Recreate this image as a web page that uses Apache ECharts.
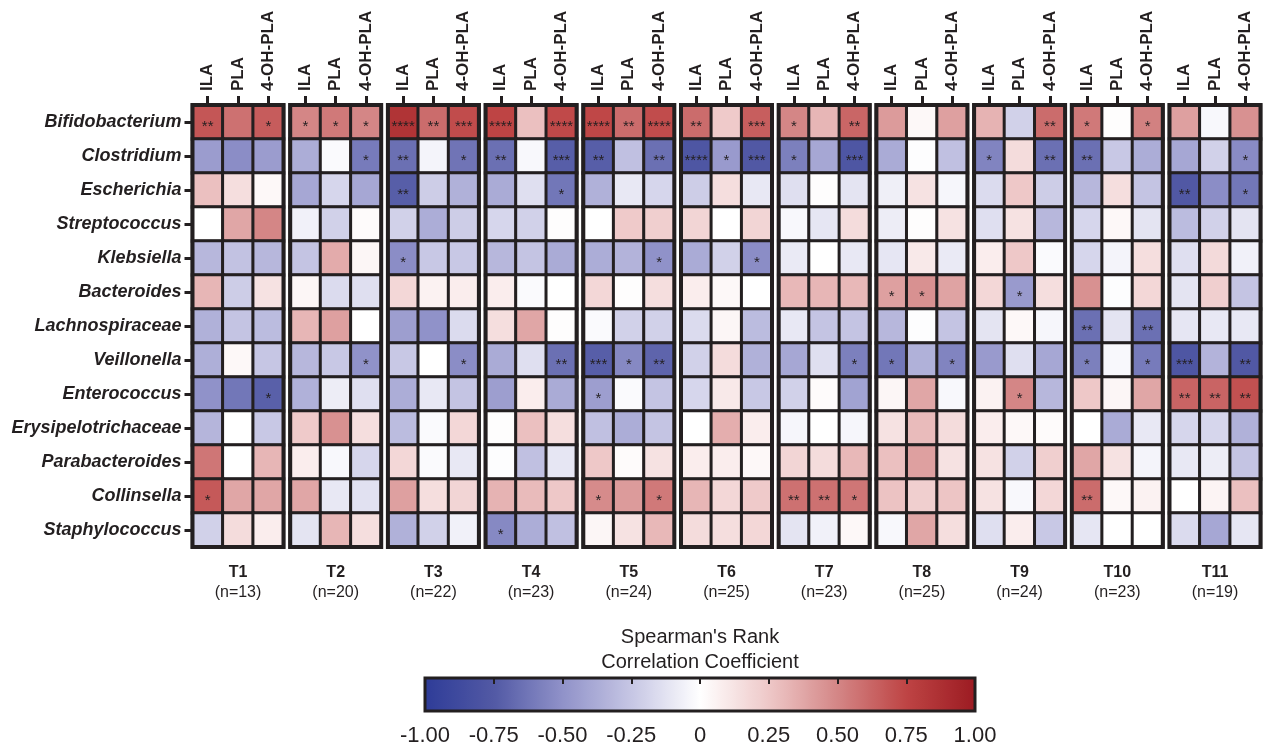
<!DOCTYPE html>
<html>
<head>
<meta charset="utf-8">
<script src="https://cdn.jsdelivr.net/npm/echarts@6/dist/echarts.min.js"></script>
<style>
html,body{margin:0;padding:0;background:#fff;}
#chart{width:1264px;height:748px;}
</style>
</head>
<body>
<div id="chart"></div>
<script>
// ---------- data ----------
const timepoints = ['T1','T2','T3','T4','T5','T6','T7','T8','T9','T10','T11'];
const sampleSizes = [13,20,22,23,24,25,23,25,24,23,19];
const metabolites = ['ILA','PLA','4-OH-PLA'];
const genera = ['Bifidobacterium','Clostridium','Escherichia','Streptococcus','Klebsiella','Bacteroides','Lachnospiraceae','Veillonella','Enterococcus','Erysipelotrichaceae','Parabacteroides','Collinsella','Staphylococcus'];
const colorbarTicks = ['-1.00','-0.75','-0.50','-0.25','0','0.25','0.50','0.75','1.00'];

// Spearman rho per time point: rows = genera, cols = ILA, PLA, 4-OH-PLA
const rhoT1 = [[0.68,0.58,0.66],[-0.45,-0.52,-0.45],[0.28,0.15,0.03],[0,0.38,0.5],[-0.32,-0.27,-0.32],[0.32,-0.22,0.13],[-0.35,-0.26,-0.3],[-0.36,0.03,-0.25],[-0.5,-0.62,-0.72],[-0.33,0,-0.24],[0.56,0,0.32],[0.67,0.38,0.38],[-0.2,0.16,0.08]];
const rhoT2 = [[0.5,0.55,0.5],[-0.37,-0.02,-0.6],[-0.4,-0.18,-0.4],[-0.06,-0.2,0.02],[-0.26,0.36,0.04],[0.04,-0.16,-0.14],[0.32,0.4,0],[-0.32,-0.24,-0.5],[-0.35,-0.08,-0.14],[0.24,0.46,0.15],[0.08,-0.03,-0.18],[0.38,-0.1,-0.13],[-0.12,0.32,0.15]];
const rhoT3 = [[0.85,0.6,0.72],[-0.65,-0.05,-0.63],[-0.73,-0.22,-0.35],[-0.2,-0.37,-0.22],[-0.52,-0.24,-0.24],[0.18,0.06,0.08],[-0.44,-0.5,-0.16],[-0.24,0,-0.52],[-0.37,-0.1,-0.26],[-0.3,-0.02,0.18],[0.18,-0.02,-0.1],[0.4,0.15,0.19],[-0.35,-0.2,-0.06]];
const rhoT4 = [[0.75,0.28,0.73],[-0.65,-0.03,-0.73],[-0.38,-0.14,-0.62],[-0.18,-0.2,0.01],[-0.32,-0.26,-0.38],[0.08,-0.02,0],[0.15,0.38,0.01],[-0.38,-0.14,-0.65],[-0.44,0.08,-0.38],[0.01,0.28,0.15],[-0.01,-0.28,-0.11],[0.33,0.3,0.25],[-0.54,-0.37,-0.28]];
const rhoT5 = [[0.74,0.6,0.72],[-0.73,-0.28,-0.65],[-0.35,-0.1,-0.18],[0,0.24,0.22],[-0.37,-0.34,-0.5],[0.18,0.01,0.15],[-0.02,-0.2,-0.2],[-0.73,-0.54,-0.7],[-0.44,-0.02,-0.26],[-0.28,-0.37,-0.26],[0.25,0.02,0.13],[0.48,0.42,0.55],[0.04,0.13,0.31]];
const rhoT6 = [[0.6,0.24,0.65],[-0.78,-0.46,-0.76],[-0.22,0.15,-0.1],[0.19,0,0.19],[-0.38,-0.2,-0.52],[0.08,0.03,0],[-0.16,0.04,-0.3],[-0.2,0.16,-0.35],[-0.18,0.1,-0.24],[0,0.35,0.08],[0.08,0.08,0.03],[0.32,0.18,0.24],[0.16,0.15,0.18]];
const rhoT7 = [[0.5,0.32,0.62],[-0.58,-0.4,-0.78],[-0.14,0.01,-0.12],[-0.03,-0.11,0.16],[-0.09,0,-0.1],[0.31,0.32,0.31],[-0.1,-0.26,-0.26],[-0.4,-0.14,-0.58],[-0.2,0.02,-0.42],[-0.04,0,-0.04],[0.19,0.16,0.31],[0.58,0.58,0.56],[-0.12,-0.06,0.03]];
const rhoT8 = [[0.42,0.03,0.4],[-0.38,-0.01,-0.28],[-0.07,0.13,-0.04],[-0.08,0.01,0.13],[-0.11,0.1,-0.09],[0.4,0.46,0.39],[-0.32,-0.01,-0.26],[-0.62,-0.35,-0.56],[0.04,0.38,-0.03],[0.13,0.3,0.16],[0.28,0.4,0.13],[0.27,0.22,0.26],[-0.03,0.38,0.15]];
const rhoT9 = [[0.33,-0.2,0.6],[-0.56,0.16,-0.65],[-0.16,0.25,-0.22],[-0.14,0.13,-0.32],[0.08,0.25,-0.02],[0.18,-0.46,0.15],[-0.12,0.03,-0.04],[-0.46,-0.14,-0.4],[0.06,0.5,-0.32],[0.08,0.03,0.02],[0.13,-0.2,0.22],[0.13,-0.03,0.18],[-0.14,0.08,-0.24]];
const rhoT10 = [[0.55,0.01,0.52],[-0.65,-0.24,-0.37],[-0.32,0.15,-0.26],[-0.18,0.03,-0.12],[-0.18,-0.05,0.15],[0.46,-0.01,0.18],[-0.65,-0.12,-0.65],[-0.58,-0.03,-0.6],[0.25,0.04,0.38],[0,-0.38,-0.1],[0.38,0.13,-0.05],[0.6,0.03,0.06],[-0.11,0,0]];
const rhoT11 = [[0.4,-0.03,0.46],[-0.4,-0.2,-0.53],[-0.76,-0.52,-0.62],[-0.3,-0.2,-0.12],[-0.14,0.17,-0.06],[-0.12,0.22,-0.26],[-0.11,-0.1,-0.1],[-0.78,-0.34,-0.76],[0.63,0.63,0.7],[-0.18,-0.18,-0.35],[-0.1,-0.08,-0.26],[0,0.05,0.28],[-0.16,-0.4,-0.11]];

// significance marks per time point (row: "ILA,PLA,4-OH-PLA")
const sigT1 = ['**,,*',',,',',,',',,',',,',',,',',,',',,',',,*',',,',',,','*,,',',,'];
const sigT2 = ['*,*,*',',,*',',,',',,',',,',',,',',,',',,*',',,',',,',',,',',,',',,'];
const sigT3 = ['****,**,***','**,,*','**,,',',,','*,,',',,',',,',',,*',',,',',,',',,',',,',',,'];
const sigT4 = ['****,,****','**,,***',',,*',',,',',,',',,',',,',',,**',',,',',,',',,',',,','*,,'];
const sigT5 = ['****,**,****','**,,**',',,',',,',',,*',',,',',,','***,*,**','*,,',',,',',,','*,,*',',,'];
const sigT6 = ['**,,***','****,*,***',',,',',,',',,*',',,',',,',',,',',,',',,',',,',',,',',,'];
const sigT7 = ['*,,**','*,,***',',,',',,',',,',',,',',,',',,*',',,',',,',',,','**,**,*',',,'];
const sigT8 = [',,',',,',',,',',,',',,','*,*,',',,','*,,*',',,',',,',',,',',,',',,'];
const sigT9 = [',,**','*,,**',',,',',,',',,',',*,',',,',',,',',*,',',,',',,',',,',',,'];
const sigT10 = ['*,,*','**,,',',,',',,',',,',',,','**,,**','*,,*',',,',',,',',,','**,,',',,'];
const sigT11 = [',,',',,*','**,,*',',,',',,',',,',',,','***,,**','**,**,**',',,',',,',',,',',,'];

const rhoAll = [rhoT1,rhoT2,rhoT3,rhoT4,rhoT5,rhoT6,rhoT7,rhoT8,rhoT9,rhoT10,rhoT11];
const sigAll = [sigT1,sigT2,sigT3,sigT4,sigT5,sigT6,sigT7,sigT8,sigT9,sigT10,sigT11];

// ---------- layout ----------
const INK = '#231F20';
const FONT = '"Liberation Sans", Arial, sans-serif';
const gx0 = 192.5, gPitch = 97.7, gW = 91, gTop = 105, gH = 442;

const grids = [], xAxes = [], yAxes = [], series = [];
timepoints.forEach((tp, i) => {
  grids.push({left: gx0 + gPitch * i, top: gTop, width: gW, height: gH,
    show: true, borderColor: INK, borderWidth: 4, z: 3});
});
// colorbar overlay grid
const cbLeft = 425, cbTop = 678, cbW = 550, cbH = 33;
grids.push({left: cbLeft, top: cbTop, width: cbW, height: cbH, show: true,
  borderColor: INK, borderWidth: 3, backgroundColor: 'transparent', z: 10});

timepoints.forEach((tp, i) => {
  xAxes.push({type: 'category', gridIndex: i, data: metabolites, position: 'top',
    axisLine: {show: false},
    axisTick: {show: true, alignWithLabel: true, length: 9, lineStyle: {width: 3, color: INK}},
    axisLabel: {rotate: -90, interval: 0, fontSize: 17, fontWeight: 'bold', color: INK, fontFamily: FONT, margin: 14},
    splitLine: {show: false}});
});
timepoints.forEach((tp, i) => {
  xAxes.push({type: 'category', gridIndex: i, data: metabolites, position: 'bottom',
    axisLine: {show: false}, axisTick: {show: false}, axisLabel: {show: false},
    name: '{t|' + tp + '}\n{n|(n=' + sampleSizes[i] + ')}',
    nameLocation: 'middle', nameGap: 16,
    nameTextStyle: {rich: {
      t: {fontSize: 16, fontWeight: 'bold', color: INK, fontFamily: FONT, lineHeight: 20},
      n: {fontSize: 16, color: INK, fontFamily: FONT, lineHeight: 20}}}});
});
// colorbar axes
xAxes.push({type: 'value', gridIndex: 11, min: -1, max: 1, interval: 0.25, position: 'bottom', z: 10,
  axisLine: {show: false}, axisTick: {show: false}, splitLine: {show: false},
  axisLabel: {fontSize: 22, color: INK, fontFamily: FONT, margin: 14,
    formatter: (v, idx) => colorbarTicks[idx]}});
xAxes.push({type: 'value', gridIndex: 11, min: -1, max: 1, interval: 0.25, position: 'top', z: 10,
  axisLine: {show: false}, splitLine: {show: false}, axisLabel: {show: false},
  axisTick: {show: true, inside: true, length: 6, lineStyle: {width: 2, color: INK}},
  name: "Spearman's Rank\nCorrelation Coefficient", nameLocation: 'middle', nameGap: 3,
  nameTextStyle: {fontSize: 20, color: INK, fontFamily: FONT, lineHeight: 25, verticalAlign: 'bottom'}});

timepoints.forEach((tp, i) => {
  yAxes.push({type: 'category', gridIndex: i, data: genera, inverse: true, show: i === 0,
    axisLine: {show: false},
    axisTick: {show: true, alignWithLabel: true, length: 8, lineStyle: {width: 3, color: INK}},
    axisLabel: {fontSize: 18, fontWeight: 'bold', fontStyle: 'italic', color: INK, fontFamily: FONT, margin: 11, interval: 0},
    splitLine: {show: false}});
});
yAxes.push({type: 'value', gridIndex: 11, show: false, min: 0, max: 1});

timepoints.forEach((tp, i) => {
  const data = [];
  rhoAll[i].forEach((row, r) => {
    const marks = sigAll[i][r].split(',');
    row.forEach((v, c) => data.push([c, r, v, marks[c] || '']));
  });
  series.push({type: 'heatmap', xAxisIndex: i, yAxisIndex: i, data: data,
    itemStyle: {borderColor: INK, borderWidth: 3},
    emphasis: {disabled: true},
    label: {show: true, formatter: p => p.data[3], fontSize: 15, color: INK, fontFamily: FONT, offset: [0, 5]}});
});

const option = {
  animation: false,
  backgroundColor: '#ffffff',
  grid: grids, xAxis: xAxes, yAxis: yAxes, series: series,
  visualMap: {type: 'continuous', min: -1, max: 1, orient: 'horizontal', calculable: false,
    seriesIndex: timepoints.map((t, i) => i), dimension: 2,
    left: cbLeft, top: cbTop, itemWidth: cbH, itemHeight: cbW, padding: 0, text: null, hoverLink: false,
    inRange: {color: ['#2E3C98','#5259A5','#9092C9','#C6C6E4','#FFFFFF','#EEC8C8','#D48686','#BE4444','#9C1B22']}}
};
const chart = echarts.init(document.getElementById('chart'), null, {renderer: 'canvas'});
chart.setOption(option);
</script>
</body>
</html>
